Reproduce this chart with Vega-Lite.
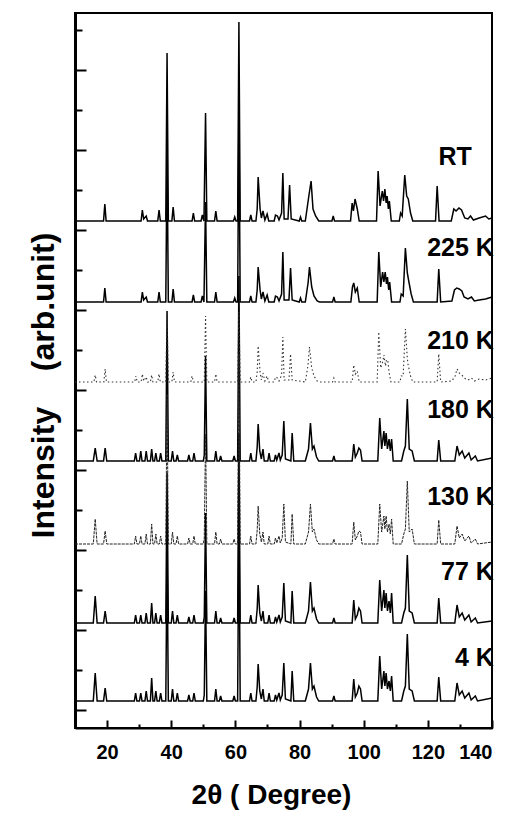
{
"$schema": "https://vega.github.io/schema/vega-lite/v6.json",
"width": 417, "height": 715,
"autosize": "none",
"padding": {"left": 75, "top": 13, "right": 24, "bottom": 101},
"background": "white",
"config": {"font": "Liberation Sans", "view": {"stroke": "black", "strokeWidth": 2},
  "axis": {"grid": false, "domainColor": "black", "tickColor": "black", "labelColor": "black", "titleColor": "black", "tickWidth": 2}},
"datasets": {
"labels": [
 {"s":"RT","x":133.7,"y":571},{"s":"225 K","x":140.6,"y":480},{"s":"210 K","x":140.6,"y":387},{"s":"180 K","x":140.6,"y":318},
 {"s":"130 K","x":140.6,"y":231},{"s":"77 K","x":140.6,"y":156},{"s":"4 K","x":140.6,"y":70}],
"xrd": [
{"s":"4 K","x":10,"y":27},{"s":"4 K","x":15.7,"y":27},{"s":"4 K","x":16.3,"y":55},{"s":"4 K","x":16.9,"y":27},{"s":"4 K","x":18.9,"y":27},{"s":"4 K","x":19.4,"y":40},{"s":"4 K","x":19.9,"y":27},
{"s":"4 K","x":28.5,"y":27},{"s":"4 K","x":28.9,"y":35},{"s":"4 K","x":29.3,"y":27},{"s":"4 K","x":30.1,"y":27},{"s":"4 K","x":30.5,"y":35},{"s":"4 K","x":30.9,"y":27},
{"s":"4 K","x":31.8,"y":27},{"s":"4 K","x":32.2,"y":37},{"s":"4 K","x":32.6,"y":27},{"s":"4 K","x":33.5,"y":27},{"s":"4 K","x":33.9,"y":50},{"s":"4 K","x":34.3,"y":27},
{"s":"4 K","x":34.8,"y":27},{"s":"4 K","x":35.2,"y":37},{"s":"4 K","x":35.6,"y":27},{"s":"4 K","x":36.3,"y":27},{"s":"4 K","x":36.7,"y":35},{"s":"4 K","x":37.1,"y":27},
{"s":"4 K","x":38.3,"y":27},{"s":"4 K","x":38.7,"y":177},{"s":"4 K","x":39.1,"y":27},{"s":"4 K","x":40.0,"y":27},{"s":"4 K","x":40.4,"y":39},{"s":"4 K","x":40.8,"y":27},
{"s":"4 K","x":41.5,"y":27},{"s":"4 K","x":41.9,"y":35},{"s":"4 K","x":42.3,"y":27},{"s":"4 K","x":45.1,"y":27},{"s":"4 K","x":45.5,"y":33},{"s":"4 K","x":45.9,"y":27},
{"s":"4 K","x":46.7,"y":27},{"s":"4 K","x":47.1,"y":35},{"s":"4 K","x":47.5,"y":27},{"s":"4 K","x":50.0,"y":27},{"s":"4 K","x":50.3,"y":33},{"s":"4 K","x":50.7,"y":137},{"s":"4 K","x":51.1,"y":27},
{"s":"4 K","x":53.5,"y":27},{"s":"4 K","x":53.9,"y":39},{"s":"4 K","x":54.3,"y":27},{"s":"4 K","x":55.0,"y":27},{"s":"4 K","x":55.4,"y":32},{"s":"4 K","x":55.8,"y":27},
{"s":"4 K","x":59.2,"y":27},{"s":"4 K","x":59.6,"y":32},{"s":"4 K","x":60.0,"y":27},{"s":"4 K","x":60.7,"y":27},{"s":"4 K","x":61.1,"y":217},{"s":"4 K","x":61.5,"y":27},
{"s":"4 K","x":64.4,"y":27},{"s":"4 K","x":64.8,"y":35},{"s":"4 K","x":65.2,"y":27},
{"s":"4 K","x":66.4,"y":27},{"s":"4 K","x":66.8,"y":41},{"s":"4 K","x":67.1,"y":64},{"s":"4 K","x":67.6,"y":37},{"s":"4 K","x":68.1,"y":29},{"s":"4 K","x":68.6,"y":39},{"s":"4 K","x":69.0,"y":27},
{"s":"4 K","x":70.1,"y":27},{"s":"4 K","x":70.5,"y":35},{"s":"4 K","x":70.9,"y":27},
{"s":"4 K","x":72.1,"y":27},{"s":"4 K","x":72.5,"y":33},{"s":"4 K","x":72.9,"y":28},{"s":"4 K","x":73.6,"y":35},{"s":"4 K","x":74.0,"y":28},{"s":"4 K","x":74.6,"y":33},{"s":"4 K","x":75.1,"y":65},{"s":"4 K","x":75.6,"y":29},
{"s":"4 K","x":77.3,"y":27},{"s":"4 K","x":77.7,"y":57},{"s":"4 K","x":78.2,"y":27},
{"s":"4 K","x":81.8,"y":27},{"s":"4 K","x":82.8,"y":39},{"s":"4 K","x":83.4,"y":65},{"s":"4 K","x":84.0,"y":39},{"s":"4 K","x":84.5,"y":42},{"s":"4 K","x":85.3,"y":31},{"s":"4 K","x":86.0,"y":27},
{"s":"4 K","x":90.3,"y":27},{"s":"4 K","x":90.7,"y":32},{"s":"4 K","x":91.1,"y":27},
{"s":"4 K","x":96.4,"y":27},{"s":"4 K","x":96.9,"y":49},{"s":"4 K","x":97.4,"y":31},{"s":"4 K","x":98.0,"y":35},{"s":"4 K","x":98.5,"y":42},{"s":"4 K","x":99.0,"y":39},{"s":"4 K","x":99.5,"y":27},
{"s":"4 K","x":104.4,"y":27},{"s":"4 K","x":105.0,"y":72},{"s":"4 K","x":105.6,"y":39},{"s":"4 K","x":106.3,"y":57},{"s":"4 K","x":106.6,"y":42},{"s":"4 K","x":107.0,"y":55},{"s":"4 K","x":107.4,"y":39},{"s":"4 K","x":107.9,"y":47},{"s":"4 K","x":108.3,"y":37},{"s":"4 K","x":108.7,"y":52},{"s":"4 K","x":109.2,"y":27},
{"s":"4 K","x":111.8,"y":27},{"s":"4 K","x":112.5,"y":37},{"s":"4 K","x":113.0,"y":42},{"s":"4 K","x":113.6,"y":94},{"s":"4 K","x":114.2,"y":39},{"s":"4 K","x":115.1,"y":37},{"s":"4 K","x":115.8,"y":27},
{"s":"4 K","x":122.9,"y":27},{"s":"4 K","x":123.4,"y":51},{"s":"4 K","x":124.0,"y":27},
{"s":"4 K","x":128.4,"y":27},{"s":"4 K","x":129.1,"y":45},{"s":"4 K","x":129.8,"y":33},{"s":"4 K","x":130.7,"y":37},{"s":"4 K","x":131.5,"y":30},{"s":"4 K","x":132.8,"y":35},{"s":"4 K","x":133.5,"y":28},{"s":"4 K","x":134.8,"y":32},{"s":"4 K","x":135.5,"y":27},{"s":"4 K","x":140,"y":30},

{"s":"77 K","x":10,"y":105},{"s":"77 K","x":15.7,"y":105},{"s":"77 K","x":16.3,"y":132},{"s":"77 K","x":16.9,"y":105},{"s":"77 K","x":18.9,"y":105},{"s":"77 K","x":19.4,"y":117},{"s":"77 K","x":19.9,"y":105},
{"s":"77 K","x":28.5,"y":105},{"s":"77 K","x":28.9,"y":113},{"s":"77 K","x":29.3,"y":105},{"s":"77 K","x":30.1,"y":105},{"s":"77 K","x":30.5,"y":113},{"s":"77 K","x":30.9,"y":105},
{"s":"77 K","x":31.8,"y":105},{"s":"77 K","x":32.2,"y":115},{"s":"77 K","x":32.6,"y":105},{"s":"77 K","x":33.5,"y":105},{"s":"77 K","x":33.9,"y":125},{"s":"77 K","x":34.3,"y":105},
{"s":"77 K","x":34.8,"y":105},{"s":"77 K","x":35.2,"y":115},{"s":"77 K","x":35.6,"y":105},{"s":"77 K","x":36.3,"y":105},{"s":"77 K","x":36.7,"y":113},{"s":"77 K","x":37.1,"y":105},
{"s":"77 K","x":38.3,"y":105},{"s":"77 K","x":38.7,"y":255},{"s":"77 K","x":39.1,"y":105},{"s":"77 K","x":40.0,"y":105},{"s":"77 K","x":40.4,"y":117},{"s":"77 K","x":40.8,"y":105},
{"s":"77 K","x":41.5,"y":105},{"s":"77 K","x":41.9,"y":113},{"s":"77 K","x":42.3,"y":105},{"s":"77 K","x":45.1,"y":105},{"s":"77 K","x":45.5,"y":111},{"s":"77 K","x":45.9,"y":105},
{"s":"77 K","x":46.7,"y":105},{"s":"77 K","x":47.1,"y":113},{"s":"77 K","x":47.5,"y":105},{"s":"77 K","x":50.0,"y":105},{"s":"77 K","x":50.3,"y":111},{"s":"77 K","x":50.7,"y":215},{"s":"77 K","x":51.1,"y":105},
{"s":"77 K","x":53.5,"y":105},{"s":"77 K","x":53.9,"y":117},{"s":"77 K","x":54.3,"y":105},{"s":"77 K","x":55.0,"y":105},{"s":"77 K","x":55.4,"y":110},{"s":"77 K","x":55.8,"y":105},
{"s":"77 K","x":59.2,"y":105},{"s":"77 K","x":59.6,"y":110},{"s":"77 K","x":60.0,"y":105},{"s":"77 K","x":60.7,"y":105},{"s":"77 K","x":61.1,"y":295},{"s":"77 K","x":61.5,"y":105},
{"s":"77 K","x":64.4,"y":105},{"s":"77 K","x":64.8,"y":113},{"s":"77 K","x":65.2,"y":105},
{"s":"77 K","x":66.4,"y":105},{"s":"77 K","x":66.8,"y":119},{"s":"77 K","x":67.1,"y":143},{"s":"77 K","x":67.6,"y":115},{"s":"77 K","x":68.1,"y":107},{"s":"77 K","x":68.6,"y":117},{"s":"77 K","x":69.0,"y":105},
{"s":"77 K","x":70.1,"y":105},{"s":"77 K","x":70.5,"y":113},{"s":"77 K","x":70.9,"y":105},
{"s":"77 K","x":72.1,"y":105},{"s":"77 K","x":72.5,"y":111},{"s":"77 K","x":72.9,"y":106},{"s":"77 K","x":73.6,"y":113},{"s":"77 K","x":74.0,"y":106},{"s":"77 K","x":74.6,"y":111},{"s":"77 K","x":75.1,"y":145},{"s":"77 K","x":75.6,"y":107},
{"s":"77 K","x":77.3,"y":105},{"s":"77 K","x":77.7,"y":137},{"s":"77 K","x":78.2,"y":105},
{"s":"77 K","x":81.8,"y":105},{"s":"77 K","x":82.8,"y":117},{"s":"77 K","x":83.4,"y":146},{"s":"77 K","x":84.0,"y":117},{"s":"77 K","x":84.5,"y":120},{"s":"77 K","x":85.3,"y":109},{"s":"77 K","x":86.0,"y":105},
{"s":"77 K","x":90.3,"y":105},{"s":"77 K","x":90.7,"y":110},{"s":"77 K","x":91.1,"y":105},
{"s":"77 K","x":96.4,"y":105},{"s":"77 K","x":96.9,"y":128},{"s":"77 K","x":97.4,"y":109},{"s":"77 K","x":98.0,"y":113},{"s":"77 K","x":98.5,"y":120},{"s":"77 K","x":99.0,"y":117},{"s":"77 K","x":99.5,"y":105},
{"s":"77 K","x":104.4,"y":105},{"s":"77 K","x":105.0,"y":148},{"s":"77 K","x":105.6,"y":117},{"s":"77 K","x":106.3,"y":138},{"s":"77 K","x":106.6,"y":120},{"s":"77 K","x":107.0,"y":135},{"s":"77 K","x":107.4,"y":117},{"s":"77 K","x":107.9,"y":127},{"s":"77 K","x":108.3,"y":115},{"s":"77 K","x":108.7,"y":135},{"s":"77 K","x":109.2,"y":105},
{"s":"77 K","x":111.8,"y":105},{"s":"77 K","x":112.5,"y":115},{"s":"77 K","x":113.0,"y":120},{"s":"77 K","x":113.6,"y":173},{"s":"77 K","x":114.2,"y":117},{"s":"77 K","x":115.1,"y":115},{"s":"77 K","x":115.8,"y":105},
{"s":"77 K","x":122.9,"y":105},{"s":"77 K","x":123.4,"y":130},{"s":"77 K","x":124.0,"y":105},
{"s":"77 K","x":128.4,"y":105},{"s":"77 K","x":129.1,"y":123},{"s":"77 K","x":129.8,"y":111},{"s":"77 K","x":130.7,"y":115},{"s":"77 K","x":131.5,"y":108},{"s":"77 K","x":132.8,"y":113},{"s":"77 K","x":133.5,"y":106},{"s":"77 K","x":134.8,"y":110},{"s":"77 K","x":135.5,"y":105},{"s":"77 K","x":140,"y":107},

{"s":"130 K","x":10,"y":184},{"s":"130 K","x":15.7,"y":184},{"s":"130 K","x":16.3,"y":209},{"s":"130 K","x":16.9,"y":184},{"s":"130 K","x":18.9,"y":184},{"s":"130 K","x":19.4,"y":197},{"s":"130 K","x":19.9,"y":184},
{"s":"130 K","x":28.5,"y":184},{"s":"130 K","x":28.9,"y":192},{"s":"130 K","x":29.3,"y":184},{"s":"130 K","x":30.1,"y":184},{"s":"130 K","x":30.5,"y":192},{"s":"130 K","x":30.9,"y":184},
{"s":"130 K","x":31.8,"y":184},{"s":"130 K","x":32.2,"y":194},{"s":"130 K","x":32.6,"y":184},{"s":"130 K","x":33.5,"y":184},{"s":"130 K","x":33.9,"y":204},{"s":"130 K","x":34.3,"y":184},
{"s":"130 K","x":34.8,"y":184},{"s":"130 K","x":35.2,"y":194},{"s":"130 K","x":35.6,"y":184},{"s":"130 K","x":36.3,"y":184},{"s":"130 K","x":36.7,"y":192},{"s":"130 K","x":37.1,"y":184},
{"s":"130 K","x":38.3,"y":184},{"s":"130 K","x":38.7,"y":334},{"s":"130 K","x":39.1,"y":184},{"s":"130 K","x":40.0,"y":184},{"s":"130 K","x":40.4,"y":196},{"s":"130 K","x":40.8,"y":184},
{"s":"130 K","x":41.5,"y":184},{"s":"130 K","x":41.9,"y":192},{"s":"130 K","x":42.3,"y":184},{"s":"130 K","x":45.1,"y":184},{"s":"130 K","x":45.5,"y":190},{"s":"130 K","x":45.9,"y":184},
{"s":"130 K","x":46.7,"y":184},{"s":"130 K","x":47.1,"y":192},{"s":"130 K","x":47.5,"y":184},{"s":"130 K","x":50.0,"y":184},{"s":"130 K","x":50.3,"y":190},{"s":"130 K","x":50.7,"y":294},{"s":"130 K","x":51.1,"y":184},
{"s":"130 K","x":53.5,"y":184},{"s":"130 K","x":53.9,"y":196},{"s":"130 K","x":54.3,"y":184},{"s":"130 K","x":55.0,"y":184},{"s":"130 K","x":55.4,"y":189},{"s":"130 K","x":55.8,"y":184},
{"s":"130 K","x":59.2,"y":184},{"s":"130 K","x":59.6,"y":189},{"s":"130 K","x":60.0,"y":184},{"s":"130 K","x":60.7,"y":184},{"s":"130 K","x":61.1,"y":374},{"s":"130 K","x":61.5,"y":184},
{"s":"130 K","x":64.4,"y":184},{"s":"130 K","x":64.8,"y":192},{"s":"130 K","x":65.2,"y":184},
{"s":"130 K","x":66.4,"y":184},{"s":"130 K","x":66.8,"y":198},{"s":"130 K","x":67.1,"y":222},{"s":"130 K","x":67.6,"y":194},{"s":"130 K","x":68.1,"y":186},{"s":"130 K","x":68.6,"y":196},{"s":"130 K","x":69.0,"y":184},
{"s":"130 K","x":70.1,"y":184},{"s":"130 K","x":70.5,"y":192},{"s":"130 K","x":70.9,"y":184},
{"s":"130 K","x":72.1,"y":184},{"s":"130 K","x":72.5,"y":190},{"s":"130 K","x":72.9,"y":185},{"s":"130 K","x":73.6,"y":192},{"s":"130 K","x":74.0,"y":185},{"s":"130 K","x":74.6,"y":190},{"s":"130 K","x":75.1,"y":224},{"s":"130 K","x":75.6,"y":186},
{"s":"130 K","x":77.3,"y":184},{"s":"130 K","x":77.7,"y":214},{"s":"130 K","x":78.2,"y":184},
{"s":"130 K","x":81.8,"y":184},{"s":"130 K","x":82.8,"y":196},{"s":"130 K","x":83.4,"y":224},{"s":"130 K","x":84.0,"y":196},{"s":"130 K","x":84.5,"y":199},{"s":"130 K","x":85.3,"y":188},{"s":"130 K","x":86.0,"y":184},
{"s":"130 K","x":90.3,"y":184},{"s":"130 K","x":90.7,"y":189},{"s":"130 K","x":91.1,"y":184},
{"s":"130 K","x":96.4,"y":184},{"s":"130 K","x":96.9,"y":206},{"s":"130 K","x":97.4,"y":188},{"s":"130 K","x":98.0,"y":192},{"s":"130 K","x":98.5,"y":197},{"s":"130 K","x":99.0,"y":196},{"s":"130 K","x":99.5,"y":184},
{"s":"130 K","x":104.4,"y":184},{"s":"130 K","x":105.0,"y":224},{"s":"130 K","x":105.6,"y":196},{"s":"130 K","x":106.3,"y":212},{"s":"130 K","x":106.6,"y":199},{"s":"130 K","x":107.0,"y":212},{"s":"130 K","x":107.4,"y":196},{"s":"130 K","x":107.9,"y":204},{"s":"130 K","x":108.3,"y":194},{"s":"130 K","x":108.7,"y":209},{"s":"130 K","x":109.2,"y":184},
{"s":"130 K","x":111.8,"y":184},{"s":"130 K","x":112.5,"y":194},{"s":"130 K","x":113.0,"y":199},{"s":"130 K","x":113.6,"y":247},{"s":"130 K","x":114.2,"y":196},{"s":"130 K","x":115.1,"y":199},{"s":"130 K","x":115.8,"y":184},
{"s":"130 K","x":122.9,"y":184},{"s":"130 K","x":123.4,"y":208},{"s":"130 K","x":124.0,"y":184},
{"s":"130 K","x":128.4,"y":184},{"s":"130 K","x":129.1,"y":202},{"s":"130 K","x":129.8,"y":190},{"s":"130 K","x":130.7,"y":194},{"s":"130 K","x":131.5,"y":187},{"s":"130 K","x":132.8,"y":192},{"s":"130 K","x":133.5,"y":185},{"s":"130 K","x":134.8,"y":189},{"s":"130 K","x":135.5,"y":184},{"s":"130 K","x":140,"y":186},

{"s":"180 K","x":10,"y":267},{"s":"180 K","x":15.7,"y":267},{"s":"180 K","x":16.3,"y":280},{"s":"180 K","x":16.9,"y":267},{"s":"180 K","x":18.9,"y":267},{"s":"180 K","x":19.4,"y":280},{"s":"180 K","x":19.9,"y":267},
{"s":"180 K","x":28.5,"y":267},{"s":"180 K","x":28.9,"y":275},{"s":"180 K","x":29.3,"y":267},{"s":"180 K","x":30.1,"y":267},{"s":"180 K","x":30.5,"y":277},{"s":"180 K","x":30.9,"y":267},
{"s":"180 K","x":31.8,"y":267},{"s":"180 K","x":32.2,"y":277},{"s":"180 K","x":32.6,"y":267},{"s":"180 K","x":33.5,"y":267},{"s":"180 K","x":33.9,"y":279},{"s":"180 K","x":34.3,"y":267},
{"s":"180 K","x":34.8,"y":267},{"s":"180 K","x":35.2,"y":275},{"s":"180 K","x":35.6,"y":267},{"s":"180 K","x":36.3,"y":267},{"s":"180 K","x":36.7,"y":275},{"s":"180 K","x":37.1,"y":267},
{"s":"180 K","x":38.3,"y":267},{"s":"180 K","x":38.7,"y":417},{"s":"180 K","x":39.1,"y":267},{"s":"180 K","x":40.0,"y":267},{"s":"180 K","x":40.4,"y":277},{"s":"180 K","x":40.8,"y":267},
{"s":"180 K","x":41.5,"y":267},{"s":"180 K","x":41.9,"y":273},{"s":"180 K","x":42.3,"y":267},{"s":"180 K","x":45.1,"y":267},{"s":"180 K","x":45.5,"y":273},{"s":"180 K","x":45.9,"y":267},
{"s":"180 K","x":46.7,"y":267},{"s":"180 K","x":47.1,"y":275},{"s":"180 K","x":47.5,"y":267},{"s":"180 K","x":50.0,"y":267},{"s":"180 K","x":50.3,"y":273},{"s":"180 K","x":50.7,"y":372},{"s":"180 K","x":51.1,"y":267},
{"s":"180 K","x":53.5,"y":267},{"s":"180 K","x":53.9,"y":277},{"s":"180 K","x":54.3,"y":267},{"s":"180 K","x":55.0,"y":267},{"s":"180 K","x":55.4,"y":272},{"s":"180 K","x":55.8,"y":267},
{"s":"180 K","x":59.2,"y":267},{"s":"180 K","x":59.6,"y":272},{"s":"180 K","x":60.0,"y":267},{"s":"180 K","x":60.7,"y":267},{"s":"180 K","x":61.1,"y":452},{"s":"180 K","x":61.5,"y":267},
{"s":"180 K","x":64.4,"y":267},{"s":"180 K","x":64.8,"y":275},{"s":"180 K","x":65.2,"y":267},
{"s":"180 K","x":66.4,"y":267},{"s":"180 K","x":66.8,"y":281},{"s":"180 K","x":67.1,"y":304},{"s":"180 K","x":67.6,"y":277},{"s":"180 K","x":68.1,"y":269},{"s":"180 K","x":68.6,"y":279},{"s":"180 K","x":69.0,"y":267},
{"s":"180 K","x":70.1,"y":267},{"s":"180 K","x":70.5,"y":275},{"s":"180 K","x":70.9,"y":267},
{"s":"180 K","x":72.1,"y":267},{"s":"180 K","x":72.5,"y":273},{"s":"180 K","x":72.9,"y":268},{"s":"180 K","x":73.6,"y":275},{"s":"180 K","x":74.0,"y":268},{"s":"180 K","x":74.6,"y":273},{"s":"180 K","x":75.1,"y":307},{"s":"180 K","x":75.6,"y":269},
{"s":"180 K","x":77.3,"y":267},{"s":"180 K","x":77.7,"y":295},{"s":"180 K","x":78.2,"y":267},
{"s":"180 K","x":81.8,"y":267},{"s":"180 K","x":82.8,"y":279},{"s":"180 K","x":83.4,"y":305},{"s":"180 K","x":84.0,"y":279},{"s":"180 K","x":84.5,"y":282},{"s":"180 K","x":85.3,"y":271},{"s":"180 K","x":86.0,"y":267},
{"s":"180 K","x":90.3,"y":267},{"s":"180 K","x":90.7,"y":272},{"s":"180 K","x":91.1,"y":267},
{"s":"180 K","x":96.4,"y":267},{"s":"180 K","x":96.9,"y":284},{"s":"180 K","x":97.4,"y":271},{"s":"180 K","x":98.0,"y":275},{"s":"180 K","x":98.5,"y":280},{"s":"180 K","x":99.0,"y":278},{"s":"180 K","x":99.5,"y":267},
{"s":"180 K","x":104.4,"y":267},{"s":"180 K","x":105.0,"y":310},{"s":"180 K","x":105.6,"y":279},{"s":"180 K","x":106.3,"y":297},{"s":"180 K","x":106.6,"y":282},{"s":"180 K","x":107.0,"y":295},{"s":"180 K","x":107.4,"y":279},{"s":"180 K","x":107.9,"y":289},{"s":"180 K","x":108.3,"y":277},{"s":"180 K","x":108.7,"y":289},{"s":"180 K","x":109.2,"y":267},
{"s":"180 K","x":111.8,"y":267},{"s":"180 K","x":112.5,"y":277},{"s":"180 K","x":113.0,"y":282},{"s":"180 K","x":113.6,"y":329},{"s":"180 K","x":114.2,"y":279},{"s":"180 K","x":115.1,"y":277},{"s":"180 K","x":115.8,"y":267},
{"s":"180 K","x":122.9,"y":267},{"s":"180 K","x":123.4,"y":288},{"s":"180 K","x":124.0,"y":267},
{"s":"180 K","x":128.4,"y":267},{"s":"180 K","x":129.1,"y":282},{"s":"180 K","x":129.8,"y":273},{"s":"180 K","x":130.7,"y":277},{"s":"180 K","x":131.5,"y":270},{"s":"180 K","x":132.8,"y":275},{"s":"180 K","x":133.5,"y":268},{"s":"180 K","x":134.8,"y":272},{"s":"180 K","x":135.5,"y":267},{"s":"180 K","x":140,"y":270},

{"s":"210 K","x":10,"y":346},{"s":"210 K","x":15.9,"y":346},{"s":"210 K","x":16.3,"y":353},{"s":"210 K","x":16.7,"y":346},{"s":"210 K","x":19.0,"y":346},{"s":"210 K","x":19.4,"y":359},{"s":"210 K","x":19.8,"y":346},
{"s":"210 K","x":28.6,"y":346},{"s":"210 K","x":29.0,"y":352},{"s":"210 K","x":29.4,"y":346},{"s":"210 K","x":30.6,"y":346},{"s":"210 K","x":31.0,"y":354},{"s":"210 K","x":31.4,"y":347},{"s":"210 K","x":32.2,"y":351},{"s":"210 K","x":32.6,"y":346},
{"s":"210 K","x":33.5,"y":346},{"s":"210 K","x":33.9,"y":353},{"s":"210 K","x":34.3,"y":346},{"s":"210 K","x":35.8,"y":346},{"s":"210 K","x":36.2,"y":354},{"s":"210 K","x":36.6,"y":346},
{"s":"210 K","x":38.3,"y":346},{"s":"210 K","x":38.7,"y":414},{"s":"210 K","x":39.1,"y":346},{"s":"210 K","x":40.2,"y":346},{"s":"210 K","x":40.6,"y":356},{"s":"210 K","x":41.0,"y":346},
{"s":"210 K","x":46.1,"y":346},{"s":"210 K","x":46.5,"y":352},{"s":"210 K","x":46.9,"y":346},{"s":"210 K","x":50.3,"y":346},{"s":"210 K","x":50.7,"y":412},{"s":"210 K","x":51.1,"y":346},
{"s":"210 K","x":53.5,"y":346},{"s":"210 K","x":53.9,"y":354},{"s":"210 K","x":54.3,"y":346},{"s":"210 K","x":60.7,"y":346},{"s":"210 K","x":61.1,"y":416},{"s":"210 K","x":61.5,"y":346},
{"s":"210 K","x":64.4,"y":346},{"s":"210 K","x":64.8,"y":351},{"s":"210 K","x":65.2,"y":346},
{"s":"210 K","x":66.4,"y":346},{"s":"210 K","x":66.8,"y":356},{"s":"210 K","x":67.1,"y":382},{"s":"210 K","x":67.7,"y":356},{"s":"210 K","x":68.1,"y":348},{"s":"210 K","x":68.6,"y":355},{"s":"210 K","x":69.2,"y":347},{"s":"210 K","x":69.9,"y":352},{"s":"210 K","x":70.4,"y":346},
{"s":"210 K","x":72.1,"y":346},{"s":"210 K","x":72.5,"y":351},{"s":"210 K","x":73.1,"y":350},{"s":"210 K","x":73.6,"y":347},{"s":"210 K","x":74.4,"y":353},{"s":"210 K","x":74.8,"y":391},{"s":"210 K","x":75.2,"y":348},{"s":"210 K","x":76.7,"y":348},{"s":"210 K","x":77.2,"y":374},{"s":"210 K","x":77.7,"y":348},
{"s":"210 K","x":81.8,"y":346},{"s":"210 K","x":82.6,"y":362},{"s":"210 K","x":83.1,"y":381},{"s":"210 K","x":83.8,"y":360},{"s":"210 K","x":84.5,"y":352},{"s":"210 K","x":85.5,"y":347},{"s":"210 K","x":86.2,"y":346},
{"s":"210 K","x":90.3,"y":346},{"s":"210 K","x":90.7,"y":350},{"s":"210 K","x":91.1,"y":346},
{"s":"210 K","x":96.4,"y":346},{"s":"210 K","x":96.9,"y":363},{"s":"210 K","x":97.4,"y":354},{"s":"210 K","x":98.0,"y":357},{"s":"210 K","x":98.6,"y":346},
{"s":"210 K","x":104.2,"y":346},{"s":"210 K","x":104.7,"y":396},{"s":"210 K","x":105.3,"y":360},{"s":"210 K","x":106.0,"y":367},{"s":"210 K","x":106.3,"y":373},{"s":"210 K","x":106.8,"y":362},{"s":"210 K","x":107.1,"y":368},{"s":"210 K","x":107.5,"y":368},{"s":"210 K","x":107.9,"y":356},{"s":"210 K","x":108.5,"y":346},
{"s":"210 K","x":111.3,"y":346},{"s":"210 K","x":111.7,"y":352},{"s":"210 K","x":112.3,"y":352},{"s":"210 K","x":113.0,"y":399},{"s":"210 K","x":113.6,"y":370},{"s":"210 K","x":113.8,"y":364},{"s":"210 K","x":114.6,"y":352},{"s":"210 K","x":115.3,"y":346},
{"s":"210 K","x":122.9,"y":346},{"s":"210 K","x":123.4,"y":374},{"s":"210 K","x":124.0,"y":346},
{"s":"210 K","x":127.5,"y":347},{"s":"210 K","x":128.5,"y":352},{"s":"210 K","x":129.1,"y":359},{"s":"210 K","x":129.8,"y":355},{"s":"210 K","x":130.6,"y":353},{"s":"210 K","x":131.3,"y":350},{"s":"210 K","x":132.5,"y":348},{"s":"210 K","x":133.6,"y":350},{"s":"210 K","x":134.5,"y":347},{"s":"210 K","x":136,"y":349},{"s":"210 K","x":138,"y":348},{"s":"210 K","x":140,"y":350},

{"s":"225 K","x":10,"y":426},{"s":"225 K","x":18.9,"y":426},{"s":"225 K","x":19.3,"y":440},{"s":"225 K","x":19.7,"y":426},
{"s":"225 K","x":30.6,"y":426},{"s":"225 K","x":31.0,"y":436},{"s":"225 K","x":31.4,"y":428},{"s":"225 K","x":32.2,"y":431},{"s":"225 K","x":32.6,"y":426},
{"s":"225 K","x":35.8,"y":426},{"s":"225 K","x":36.2,"y":436},{"s":"225 K","x":36.6,"y":426},
{"s":"225 K","x":38.3,"y":426},{"s":"225 K","x":38.7,"y":576},{"s":"225 K","x":39.1,"y":426},
{"s":"225 K","x":40.2,"y":426},{"s":"225 K","x":40.6,"y":439},{"s":"225 K","x":41.0,"y":426},
{"s":"225 K","x":46.5,"y":426},{"s":"225 K","x":46.9,"y":433},{"s":"225 K","x":47.3,"y":426},
{"s":"225 K","x":49.3,"y":426},{"s":"225 K","x":49.7,"y":432},{"s":"225 K","x":50.2,"y":426},{"s":"225 K","x":50.7,"y":526},{"s":"225 K","x":51.1,"y":426},
{"s":"225 K","x":53.5,"y":426},{"s":"225 K","x":53.9,"y":436},{"s":"225 K","x":54.3,"y":426},
{"s":"225 K","x":59.4,"y":426},{"s":"225 K","x":59.8,"y":430},{"s":"225 K","x":60.2,"y":426},
{"s":"225 K","x":60.7,"y":426},{"s":"225 K","x":61.1,"y":616},{"s":"225 K","x":61.5,"y":426},
{"s":"225 K","x":64.4,"y":426},{"s":"225 K","x":64.8,"y":432},{"s":"225 K","x":65.2,"y":426},
{"s":"225 K","x":66.4,"y":426},{"s":"225 K","x":66.8,"y":438},{"s":"225 K","x":67.1,"y":461},{"s":"225 K","x":67.7,"y":438},{"s":"225 K","x":68.1,"y":429},{"s":"225 K","x":68.6,"y":436},{"s":"225 K","x":69.2,"y":427},{"s":"225 K","x":69.9,"y":433},{"s":"225 K","x":70.4,"y":426},
{"s":"225 K","x":72.1,"y":426},{"s":"225 K","x":72.5,"y":432},{"s":"225 K","x":73.1,"y":431},{"s":"225 K","x":73.6,"y":427},{"s":"225 K","x":74.4,"y":434},{"s":"225 K","x":74.8,"y":476},{"s":"225 K","x":75.2,"y":428},{"s":"225 K","x":76.7,"y":428},{"s":"225 K","x":77.2,"y":460},{"s":"225 K","x":77.7,"y":428},
{"s":"225 K","x":79.9,"y":426},{"s":"225 K","x":80.3,"y":430},{"s":"225 K","x":80.7,"y":426},
{"s":"225 K","x":81.8,"y":426},{"s":"225 K","x":82.7,"y":446},{"s":"225 K","x":83.1,"y":461},{"s":"225 K","x":83.8,"y":441},{"s":"225 K","x":84.5,"y":432},{"s":"225 K","x":85.5,"y":427},{"s":"225 K","x":86.2,"y":426},
{"s":"225 K","x":90.3,"y":426},{"s":"225 K","x":90.7,"y":431},{"s":"225 K","x":91.1,"y":426},
{"s":"225 K","x":96.0,"y":426},{"s":"225 K","x":96.5,"y":441},{"s":"225 K","x":96.9,"y":445},{"s":"225 K","x":97.4,"y":436},{"s":"225 K","x":98.0,"y":440},{"s":"225 K","x":98.6,"y":426},
{"s":"225 K","x":104.2,"y":426},{"s":"225 K","x":104.7,"y":476},{"s":"225 K","x":105.3,"y":441},{"s":"225 K","x":105.9,"y":456},{"s":"225 K","x":106.3,"y":446},{"s":"225 K","x":106.7,"y":456},{"s":"225 K","x":107.1,"y":444},{"s":"225 K","x":107.4,"y":451},{"s":"225 K","x":107.8,"y":438},{"s":"225 K","x":108.1,"y":446},{"s":"225 K","x":108.7,"y":426},
{"s":"225 K","x":111.3,"y":426},{"s":"225 K","x":111.7,"y":434},{"s":"225 K","x":112.3,"y":432},{"s":"225 K","x":113.0,"y":480},{"s":"225 K","x":113.6,"y":455},{"s":"225 K","x":114.1,"y":446},{"s":"225 K","x":114.8,"y":434},{"s":"225 K","x":115.5,"y":426},
{"s":"225 K","x":122.9,"y":426},{"s":"225 K","x":123.4,"y":459},{"s":"225 K","x":124.0,"y":426},
{"s":"225 K","x":127.5,"y":427},{"s":"225 K","x":128.3,"y":438},{"s":"225 K","x":129.0,"y":440},{"s":"225 K","x":129.8,"y":439},{"s":"225 K","x":130.6,"y":437},{"s":"225 K","x":131.3,"y":431},{"s":"225 K","x":132.5,"y":429},{"s":"225 K","x":133.6,"y":431},{"s":"225 K","x":134.5,"y":427},{"s":"225 K","x":136,"y":428},{"s":"225 K","x":138,"y":429},{"s":"225 K","x":140,"y":431},

{"s":"RT","x":10,"y":507},{"s":"RT","x":18.9,"y":507},{"s":"RT","x":19.3,"y":524},{"s":"RT","x":19.7,"y":507},
{"s":"RT","x":30.6,"y":507},{"s":"RT","x":31.0,"y":518},{"s":"RT","x":31.4,"y":509},{"s":"RT","x":32.2,"y":512},{"s":"RT","x":32.6,"y":507},
{"s":"RT","x":35.8,"y":507},{"s":"RT","x":36.2,"y":518},{"s":"RT","x":36.6,"y":507},
{"s":"RT","x":38.3,"y":507},{"s":"RT","x":38.7,"y":675},{"s":"RT","x":39.1,"y":507},
{"s":"RT","x":40.2,"y":507},{"s":"RT","x":40.6,"y":521},{"s":"RT","x":41.0,"y":507},
{"s":"RT","x":46.5,"y":507},{"s":"RT","x":46.9,"y":515},{"s":"RT","x":47.3,"y":507},
{"s":"RT","x":49.3,"y":507},{"s":"RT","x":49.7,"y":513},{"s":"RT","x":50.2,"y":507},{"s":"RT","x":50.7,"y":615},{"s":"RT","x":51.1,"y":507},
{"s":"RT","x":53.5,"y":507},{"s":"RT","x":53.9,"y":517},{"s":"RT","x":54.3,"y":507},
{"s":"RT","x":59.4,"y":507},{"s":"RT","x":59.8,"y":511},{"s":"RT","x":60.2,"y":507},
{"s":"RT","x":60.7,"y":507},{"s":"RT","x":61.1,"y":706},{"s":"RT","x":61.5,"y":507},
{"s":"RT","x":64.4,"y":507},{"s":"RT","x":64.8,"y":513},{"s":"RT","x":65.2,"y":507},
{"s":"RT","x":66.4,"y":507},{"s":"RT","x":66.8,"y":519},{"s":"RT","x":67.1,"y":551},{"s":"RT","x":67.7,"y":519},{"s":"RT","x":68.1,"y":510},{"s":"RT","x":68.6,"y":517},{"s":"RT","x":69.2,"y":508},{"s":"RT","x":69.9,"y":514},{"s":"RT","x":70.4,"y":507},
{"s":"RT","x":72.1,"y":507},{"s":"RT","x":72.5,"y":513},{"s":"RT","x":73.1,"y":512},{"s":"RT","x":73.6,"y":508},{"s":"RT","x":74.4,"y":515},{"s":"RT","x":74.8,"y":555},{"s":"RT","x":75.2,"y":509},{"s":"RT","x":76.4,"y":509},{"s":"RT","x":76.9,"y":543},{"s":"RT","x":77.4,"y":509},
{"s":"RT","x":79.9,"y":507},{"s":"RT","x":80.3,"y":511},{"s":"RT","x":80.7,"y":507},
{"s":"RT","x":81.8,"y":507},{"s":"RT","x":82.9,"y":532},{"s":"RT","x":83.6,"y":547},{"s":"RT","x":84.2,"y":519},{"s":"RT","x":85.0,"y":512},{"s":"RT","x":86.0,"y":507},
{"s":"RT","x":90.1,"y":507},{"s":"RT","x":90.5,"y":512},{"s":"RT","x":90.9,"y":507},
{"s":"RT","x":95.9,"y":507},{"s":"RT","x":96.4,"y":525},{"s":"RT","x":96.8,"y":517},{"s":"RT","x":97.3,"y":529},{"s":"RT","x":98.0,"y":519},{"s":"RT","x":98.6,"y":507},
{"s":"RT","x":104.0,"y":507},{"s":"RT","x":104.5,"y":557},{"s":"RT","x":105.1,"y":522},{"s":"RT","x":105.8,"y":537},{"s":"RT","x":106.2,"y":527},{"s":"RT","x":106.6,"y":539},{"s":"RT","x":107.0,"y":525},{"s":"RT","x":107.3,"y":532},{"s":"RT","x":107.7,"y":519},{"s":"RT","x":108.0,"y":527},{"s":"RT","x":108.6,"y":507},
{"s":"RT","x":111.1,"y":507},{"s":"RT","x":111.5,"y":515},{"s":"RT","x":112.0,"y":512},{"s":"RT","x":112.8,"y":553},{"s":"RT","x":113.4,"y":532},{"s":"RT","x":113.9,"y":529},{"s":"RT","x":114.6,"y":515},{"s":"RT","x":115.3,"y":507},
{"s":"RT","x":122.4,"y":507},{"s":"RT","x":122.9,"y":542},{"s":"RT","x":123.5,"y":507},
{"s":"RT","x":127.3,"y":507},{"s":"RT","x":128.1,"y":519},{"s":"RT","x":128.8,"y":517},{"s":"RT","x":129.7,"y":520},{"s":"RT","x":130.5,"y":518},{"s":"RT","x":131.5,"y":510},{"s":"RT","x":132.5,"y":509},{"s":"RT","x":133.3,"y":512},{"s":"RT","x":134.2,"y":508},{"s":"RT","x":136.0,"y":510},{"s":"RT","x":138.0,"y":512},{"s":"RT","x":139.0,"y":509},{"s":"RT","x":140,"y":510}
]},
"layer": [
 {"data": {"name": "xrd"},
  "transform": [{"filter": "datum.s != '130 K' && datum.s != '210 K'"}],
  "mark": {"type": "line", "color": "black", "strokeWidth": 1.5},
  "encoding": {
   "x": {"field": "x", "type": "quantitative", "scale": {"domain": [10, 140], "nice": false, "zero": false},
     "axis": {"orient": "bottom", "values": [20,40,60,80,100,120,140], "ticks": false, "labelPadding": 14, "labelFontSize": 20, "labelFontWeight": "bold", "labelFont": "Liberation Sans", "domainWidth": 2,
       "title": "2θ ( Degree)", "titleFontSize": 28, "titleFontWeight": "bold", "titleX": 196, "titleY": 75, "titleAlign": "center", "titleBaseline": "alphabetic"}},
   "y": {"field": "y", "type": "quantitative", "scale": {"domain": [0, 715], "nice": false, "zero": false},
     "axis": {"orient": "left", "values": [18,98,178,258,338,418,498,578,658], "ticks": false, "labels": false, "domainWidth": 3,
       "title": "Intensity\u00a0\u00a0\u00a0\u00a0(arb.unit)", "titleFontSize": 32, "titleFontWeight": "bold", "titleAngle": -90, "titleX": -32, "titleY": 372, "titleAlign": "center", "titleBaseline": "middle"}},
   "detail": {"field": "s"}}},
 {"data": {"name": "xrd"},
  "transform": [{"filter": "datum.s == '130 K'"}],
  "mark": {"type": "line", "color": "#222", "strokeWidth": 1.0, "strokeDash": [3, 1]},
  "encoding": {
   "x": {"field": "x", "type": "quantitative",
     "axis": {"orient": "top", "offset": -715, "values": [20,40,60,80,100,120,140], "tickSize": 8, "labels": false, "domain": false, "title": null}},
   "y": {"field": "y", "type": "quantitative",
     "axis": {"orient": "right", "offset": -417, "values": [18,98,178,258,338,418,498,578,658], "tickSize": 11, "labels": false, "domain": false, "title": null}}}},
 {"data": {"name": "xrd"},
  "transform": [{"filter": "datum.s == '210 K'"}],
  "mark": {"type": "line", "color": "#333", "strokeWidth": 1.1, "strokeDash": [1.5, 2.5]},
  "encoding": {
   "x": {"field": "x", "type": "quantitative",
     "axis": {"orient": "top", "offset": -715, "values": [30,50,70,90,110,130], "tickSize": 4, "labels": false, "domain": false, "title": null}},
   "y": {"field": "y", "type": "quantitative",
     "axis": {"orient": "right", "offset": -417, "values": [58,138,218,298,378,458,538,618,698], "tickSize": 7, "labels": false, "domain": false, "title": null}}}},
 {"data": {"name": "labels"},
  "mark": {"type": "text", "align": "right", "baseline": "middle", "fontSize": 25, "fontWeight": "bold", "font": "Liberation Sans", "color": "black"},
  "encoding": {
   "x": {"field": "x", "type": "quantitative", "axis": null},
   "y": {"field": "y", "type": "quantitative", "axis": null},
   "text": {"field": "s"}}}
],
"resolve": {"axis": {"x": "independent", "y": "independent"}}
}
